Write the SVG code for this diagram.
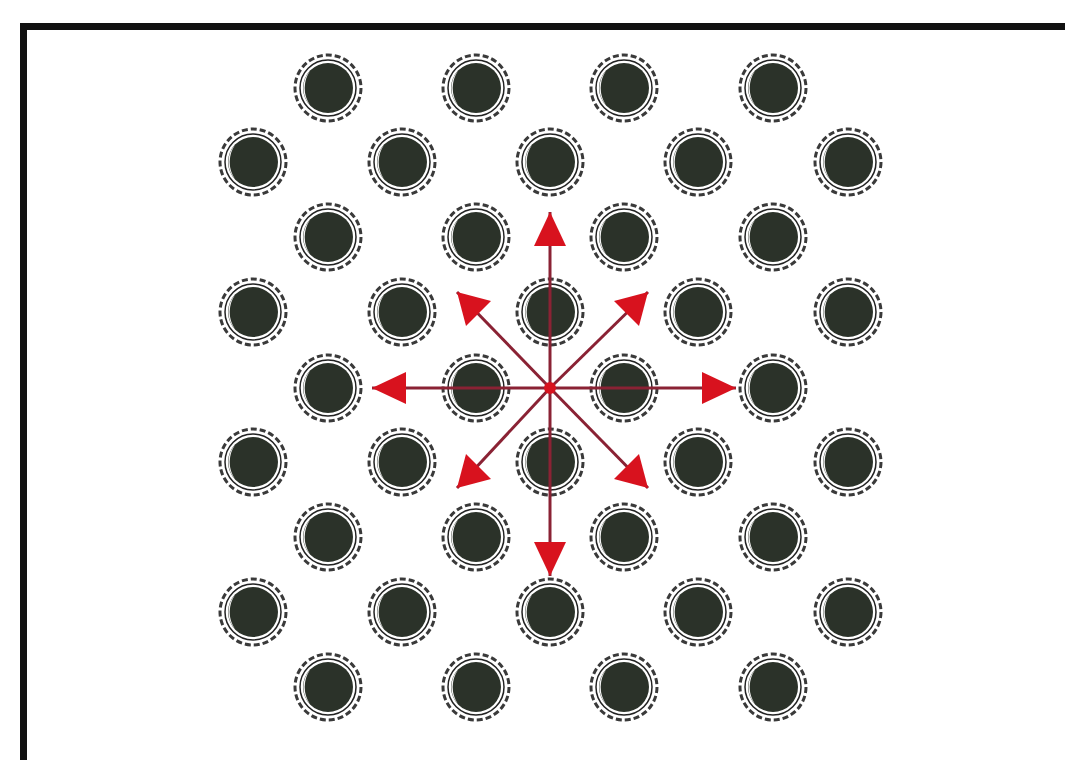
<svg xmlns="http://www.w3.org/2000/svg" width="1065" height="760" viewBox="0 0 1065 760">
<defs>
<style>
.ring{fill:#fff;stroke:#3a3a3a;stroke-width:3;stroke-dasharray:6 3}
.inner{fill:none;stroke:#222;stroke-width:1.5}
.core{fill:#2b3229}
.hl{fill:#f2f2f2}
.ax{stroke:#8a2234;stroke-width:3;fill:none}
</style>
<g id="hole">
<circle r="33" class="ring"/>
<circle r="28" class="inner"/>
<circle r="25" class="core"/>
<path d="M-18,-17 A25,25 0 0 0 -18,17 A30,30 0 0 1 -18,-17 Z" class="hl"/>
</g>
</defs>
<rect width="1065" height="760" fill="#fff"/>
<g id="frame"><path d="M23.5,760 V26.5 H1065" fill="none" stroke="#111" stroke-width="7"/></g>
<g id="holes">
<use href="#hole" x="328" y="88"/><use href="#hole" x="476" y="88"/><use href="#hole" x="624" y="88"/><use href="#hole" x="773" y="88"/>
<use href="#hole" x="253" y="162"/><use href="#hole" x="402" y="162"/><use href="#hole" x="550" y="162"/><use href="#hole" x="698" y="162"/><use href="#hole" x="848" y="162"/>
<use href="#hole" x="328" y="237"/><use href="#hole" x="476" y="237"/><use href="#hole" x="624" y="237"/><use href="#hole" x="773" y="237"/>
<use href="#hole" x="253" y="312"/><use href="#hole" x="402" y="312"/><use href="#hole" x="550" y="312"/><use href="#hole" x="698" y="312"/><use href="#hole" x="848" y="312"/>
<use href="#hole" x="328" y="388"/><use href="#hole" x="476" y="388"/><use href="#hole" x="624" y="388"/><use href="#hole" x="773" y="388"/>
<use href="#hole" x="253" y="462"/><use href="#hole" x="402" y="462"/><use href="#hole" x="550" y="462"/><use href="#hole" x="698" y="462"/><use href="#hole" x="848" y="462"/>
<use href="#hole" x="328" y="537"/><use href="#hole" x="476" y="537"/><use href="#hole" x="624" y="537"/><use href="#hole" x="773" y="537"/>
<use href="#hole" x="253" y="612"/><use href="#hole" x="402" y="612"/><use href="#hole" x="550" y="612"/><use href="#hole" x="698" y="612"/><use href="#hole" x="848" y="612"/>
<use href="#hole" x="328" y="687"/><use href="#hole" x="476" y="687"/><use href="#hole" x="624" y="687"/><use href="#hole" x="773" y="687"/>
</g>
<g id="connectors">
<g class="ax">
<line x1="550" y1="388" x2="550" y2="212"/>
<line x1="550" y1="388" x2="550" y2="576"/>
<line x1="550" y1="388" x2="372" y2="388"/>
<line x1="550" y1="388" x2="736" y2="388"/>
<line x1="550" y1="388" x2="457" y2="292"/>
<line x1="550" y1="388" x2="648" y2="292"/>
<line x1="550" y1="388" x2="457" y2="488"/>
<line x1="550" y1="388" x2="648" y2="488"/>
</g>
<g fill="#d8121e">
<path d="M550,212 L534,246 L566,246 Z"/>
<path d="M550,576 L534,542 L566,542 Z"/>
<path d="M372,388 L406,372 L406,404 Z"/>
<path d="M736,388 L702,372 L702,404 Z"/>
<path d="M457,292 L466,326 L491,301 Z"/>
<path d="M648,292 L614,301 L639,326 Z"/>
<path d="M457,488 L466,454 L491,479 Z"/>
<path d="M648,488 L614,479 L639,454 Z"/>
</g>
<circle cx="550" cy="388" r="6" fill="#d8121e"/>
</g>
</svg>
